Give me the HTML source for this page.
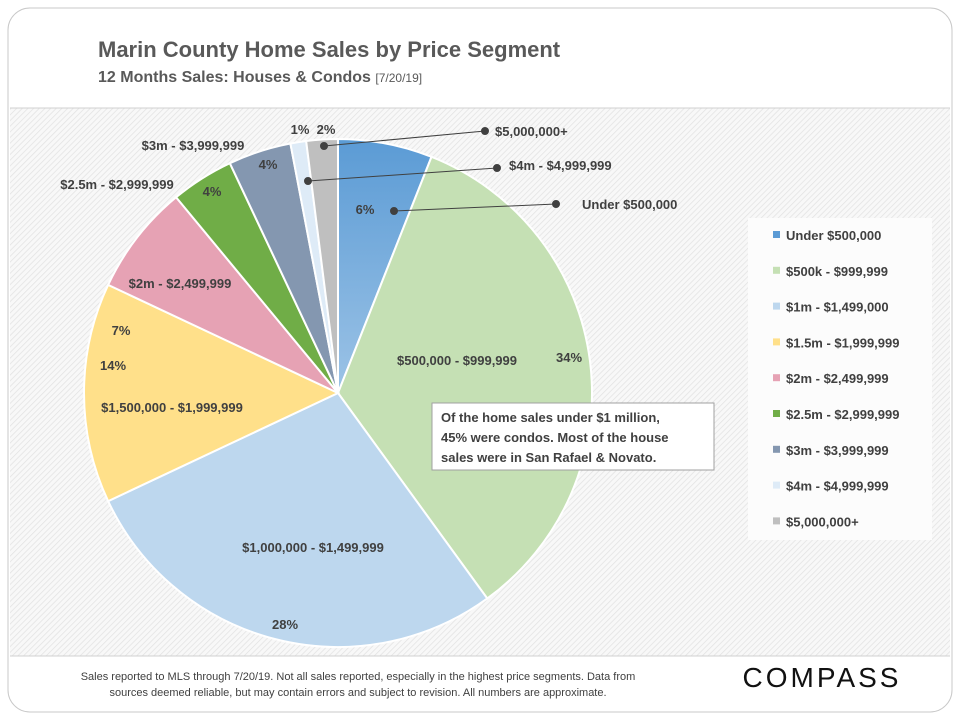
<!DOCTYPE html>
<html><head><meta charset="utf-8"><style>
body{margin:0;background:#fff;font-family:"Liberation Sans",sans-serif}
svg{display:block}
</style></head><body>
<svg width="960" height="720" viewBox="0 0 960 720">
<defs>
<pattern id="hatch" width="4" height="4" patternUnits="userSpaceOnUse" patternTransform="rotate(45)">
<rect width="4" height="4" fill="#f8f8f8"/><line x1="0" y1="0" x2="0" y2="4" stroke="#e2e2e2" stroke-width="1.5"/>
</pattern>
<linearGradient id="gBlue" x1="0" y1="0" x2="0" y2="1"><stop offset="0" stop-color="#5b9bd5"/><stop offset="1" stop-color="#9cc3e6"/></linearGradient>
</defs>
<rect x="8" y="8" width="944" height="704" rx="22" fill="#fff" stroke="#c8c8c8"/>
<rect x="10" y="108" width="940" height="548" fill="url(#hatch)"/>
<line x1="10" y1="108" x2="950" y2="108" stroke="#d0d0d0"/>
<line x1="10" y1="656" x2="950" y2="656" stroke="#d0d0d0"/>
<text x="98" y="57" font-size="22" font-weight="bold" fill="#595959">Marin County Home Sales by Price Segment</text>
<text x="98" y="82" font-size="16" font-weight="bold" fill="#595959">12 Months Sales: Houses &amp; Condos <tspan font-size="12" font-weight="normal">[7/20/19]</tspan></text>
<g id="pie"></g>
<g font-size="13" font-weight="bold" fill="#404040">
<g stroke="#404040" stroke-width="1">
<line x1="324" y1="146" x2="485" y2="131"/><circle cx="324" cy="146" r="3.5" fill="#404040"/><circle cx="485" cy="131" r="3.5" fill="#404040"/>
<line x1="308" y1="181" x2="497" y2="168"/><circle cx="308" cy="181" r="3.5" fill="#404040"/><circle cx="497" cy="168" r="3.5" fill="#404040"/>
<line x1="394" y1="211" x2="556" y2="204"/><circle cx="394" cy="211" r="3.5" fill="#404040"/><circle cx="556" cy="204" r="3.5" fill="#404040"/>
</g>
<text x="495" y="136">$5,000,000+</text>
<text x="509" y="170">$4m - $4,999,999</text>
<text x="582" y="209">Under $500,000</text>
<g text-anchor="middle">
<text x="193" y="150">$3m - $3,999,999</text>
<text x="117" y="189">$2.5m - $2,999,999</text>
<text x="268" y="169">4%</text>
<text x="212" y="196">4%</text>
<text x="300" y="134">1%</text>
<text x="326" y="134">2%</text>
<text x="365" y="214">6%</text>
<text x="121" y="335">7%</text>
<text x="180" y="288">$2m - $2,499,999</text>
<text x="113" y="370">14%</text>
<text x="172" y="412">$1,500,000 - $1,999,999</text>
<text x="313" y="552">$1,000,000 - $1,499,999</text>
<text x="285" y="629">28%</text>
<text x="457" y="365">$500,000 - $999,999</text>
<text x="569" y="362">34%</text>
</g>
</g>
<g>
<rect x="432" y="403" width="282" height="67" fill="#fff" stroke="#a0a0a0"/>
<g font-size="13" font-weight="bold" fill="#404040">
<text x="441" y="422">Of the home sales under $1 million,</text>
<text x="441" y="442">45% were condos. Most of the house</text>
<text x="441" y="462">sales were in San Rafael &amp; Novato.</text>
</g>
</g>
<rect x="748" y="218" width="184" height="322" fill="#fcfcfc"/>
<g id="legend" font-size="13" font-weight="bold" fill="#404040"></g>
<g font-size="11" fill="#404040" text-anchor="middle">
<text x="358" y="680">Sales reported to MLS through 7/20/19. Not all sales reported, especially in the highest price segments. Data from</text>
<text x="358" y="696">sources deemed reliable, but may contain errors and subject to revision. All numbers are approximate.</text>
</g>
<text x="822" y="687" font-size="28" fill="#111" text-anchor="middle" letter-spacing="3">COMPASS</text>
</svg>
<script>
const categories=["Under $500,000","$500k - $999,999","$1m - $1,499,000","$1.5m - $1,999,999","$2m - $2,499,999","$2.5m - $2,999,999","$3m - $3,999,999","$4m - $4,999,999","$5,000,000+"];
const values=[6,34,28,14,7,4,4,1,2];
const colors=["url(#gBlue)","#c5e0b4","#bdd7ee","#ffe08a","#e6a2b4","#70ad47","#8497b0","#deebf7","#bfbfbf"];
const legendColors=["#5b9bd5","#c5e0b4","#bdd7ee","#ffe08a","#e6a2b4","#70ad47","#8497b0","#deebf7","#bfbfbf"];
const NS="http://www.w3.org/2000/svg";
const cx=338,cy=393,r=254;
const total=values.reduce((a,b)=>a+b,0);
const pie=document.getElementById('pie');
function pt(a){return [cx+r*Math.sin(a),cy-r*Math.cos(a)];}
let acc=0;
values.forEach((v,i)=>{
  const a0=acc/total*2*Math.PI; acc+=v; const a1=acc/total*2*Math.PI;
  const p0=pt(a0),p1=pt(a1);
  const p=document.createElementNS(NS,'path');
  p.setAttribute('d',`M${cx},${cy}L${p0[0]},${p0[1]}A${r},${r} 0 ${a1-a0>Math.PI?1:0} 1 ${p1[0]},${p1[1]}Z`);
  p.setAttribute('fill',colors[i]);p.setAttribute('stroke','#fff');p.setAttribute('stroke-width','2');
  
  
  pie.appendChild(p);
});
const lg=document.getElementById('legend');
categories.forEach((c,i)=>{
  const y=236+i*35.8;
  const s=document.createElementNS(NS,'rect');
  s.setAttribute('x',773);s.setAttribute('y',y-5);s.setAttribute('width',7);s.setAttribute('height',7);s.setAttribute('fill',legendColors[i]);
  
  
  lg.appendChild(s);
  const t=document.createElementNS(NS,'text');
  t.setAttribute('x',786);t.setAttribute('y',y+4);t.textContent=c;
  
  
  lg.appendChild(t);
});
</script>
</body></html>
